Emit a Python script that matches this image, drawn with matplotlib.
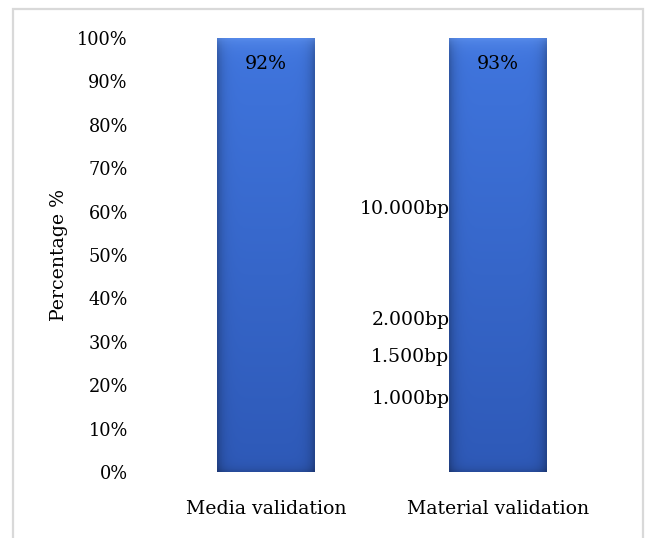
import numpy as np
import matplotlib
matplotlib.use("Agg")
import matplotlib.pyplot as plt
from matplotlib.patches import Rectangle
from matplotlib.ticker import PercentFormatter

categories = ["Media validation", "Material validation"]
success = [92, 93]
remainder = [8, 7]
value_labels = ["92%", "93%"]
ladder_labels = ["10.000bp", "2.000bp", "1.500bp", "1.000bp"]
ladder_positions = [60.6, 35.0, 26.5, 16.8]
yticks = [0, 10, 20, 30, 40, 50, 60, 70, 80, 90, 100]

plt.rcParams['font.family'] = ['DejaVu Serif']
FS = 13.6
FS_TICK = 12.8

fig = plt.figure(figsize=(6.45, 5.38), dpi=100)
ax = fig.add_axes([150/645, 1 - 472/538, 464/645, 434/538])

# figure frame
fig.patches.append(Rectangle((12.5/645, -0.05), (643-12.5)/645, 1.05 - 9.5/538,
                             transform=fig.transFigure, fill=False,
                             edgecolor='#d9d9d9', linewidth=1.6, zorder=0))

x = np.arange(len(categories))
base = '#3a6fd8'
b1 = ax.bar(x, success, width=0.42, color=base, zorder=2)
b2 = ax.bar(x, remainder, bottom=success, width=0.42, color=base, zorder=2)

# gradient shading clipped to each full stacked bar
h = 300
w = 60
vert = np.linspace(0, 1, h)[:, None]
horiz = np.linspace(-1, 1, w)[None, :]
top = np.array([0.25, 0.46, 0.87])
bot = np.array([0.18, 0.35, 0.72])
img = top[None, None, :] * (1 - vert[..., None]) + bot[None, None, :] * vert[..., None]
edge = 1 - 0.25 * (np.abs(horiz) ** 8)
img = img * edge[..., None]
bevel = np.exp(-vert / 0.02)
img = img + (np.array([0.40, 0.60, 0.95]) - img) * bevel[..., None] * 0.55
botbevel = np.exp(-(1 - vert) / 0.01)
img = img * (1 - 0.15 * botbevel[..., None])
img = np.clip(img, 0, 1)
for p1, p2 in zip(b1.patches, b2.patches):
    x0 = p1.get_x()
    x1 = x0 + p1.get_width()
    y0 = p1.get_y()
    y1 = p2.get_y() + p2.get_height()
    clip = Rectangle((x0, y0), x1 - x0, y1 - y0, transform=ax.transData)
    im = ax.imshow(img, extent=(x0, x1, y0, y1), aspect='auto', origin='upper', zorder=3)
    im.set_clip_path(clip)
    p1.set_visible(False)
    p2.set_visible(False)

# value labels near top
for p2, lab in zip(b2.patches, value_labels):
    cx = p2.get_x() + p2.get_width() / 2
    ax.annotate(lab, (cx, p2.get_y() + p2.get_height()), xytext=(0, -19),
                textcoords='offset points', ha='center', va='center',
                fontsize=FS, zorder=5)

# ladder labels left of second bar
lx = b1.patches[1].get_x()
for lab, pos in zip(ladder_labels, ladder_positions):
    ax.text(lx, pos, lab, ha='right', va='center', fontsize=FS, zorder=5)

ax.set_xlim(-0.5, 1.5)
ax.set_ylim(0, 100)
ax.set_yticks(yticks)
ax.yaxis.set_major_formatter(PercentFormatter(decimals=0))
ax.set_xticks(x)
ax.set_xticklabels(categories)
ax.tick_params(axis='both', length=0)
ax.tick_params(axis='y', pad=16, labelsize=FS_TICK)
ax.tick_params(axis='x', pad=20, labelsize=FS)
for s in ax.spines.values():
    s.set_visible(False)
ax.set_ylabel("Percentage %", fontsize=FS)
ax.yaxis.set_label_coords(-0.177, 0.5)

fig.savefig("out.png", dpi=100)
